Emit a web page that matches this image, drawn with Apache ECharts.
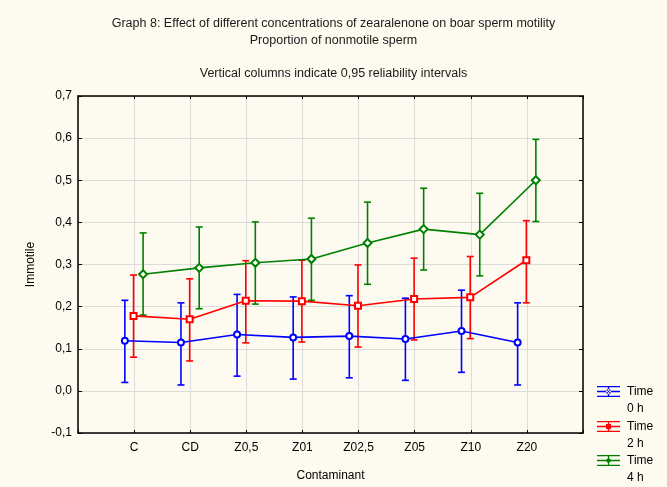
<!DOCTYPE html>
<html>
<head>
<meta charset="utf-8">
<script src="https://cdn.jsdelivr.net/npm/echarts@6/dist/echarts.min.js"></script>
<style>
html,body{margin:0;padding:0;background:#fdfaf0;}
#c{width:667px;height:487px;}
</style>
</head>
<body>
<div id="c"></div>
<script>
var categories = ['C', 'CD', 'Z0,5', 'Z01', 'Z02,5', 'Z05', 'Z10', 'Z20'];
var seriesNames = ['Time\n0 h', 'Time\n2 h', 'Time\n4 h'];
var mean0 = [0.119, 0.115, 0.134, 0.127, 0.130, 0.123, 0.142, 0.115];
var low0  = [0.020, 0.014, 0.035, 0.028, 0.031, 0.025, 0.044, 0.014];
var high0 = [0.215, 0.209, 0.229, 0.223, 0.226, 0.220, 0.239, 0.209];
var mean2 = [0.178, 0.170, 0.214, 0.213, 0.202, 0.218, 0.222, 0.310];
var low2  = [0.080, 0.071, 0.114, 0.116, 0.104, 0.121, 0.124, 0.209];
var high2 = [0.275, 0.266, 0.309, 0.310, 0.299, 0.315, 0.319, 0.404];
var mean4 = [0.277, 0.292, 0.304, 0.313, 0.351, 0.384, 0.371, 0.500];
var low4  = [0.180, 0.195, 0.206, 0.215, 0.253, 0.287, 0.273, 0.402];
var high4 = [0.375, 0.389, 0.401, 0.410, 0.448, 0.481, 0.469, 0.597];
var yTicks = [-0.1, 0.0, 0.1, 0.2, 0.3, 0.4, 0.5, 0.6, 0.7];

var colors = ['#0000ff', '#ff0000', '#008000'];
var symbols = ['emptyCircle', 'emptyRect', 'emptyDiamond'];
var symbolSizes = [6, 6, 8];
var xShift = [-0.165, -0.01, 0.16];
var legendTops = [366, 401, 435];
var means = [mean0, mean2, mean4];
var lows = [low0, low2, low4];
var highs = [high0, high2, high4];

var FONT = 'Liberation Sans, Arial, sans-serif';

function icon(markerPath) {
  return 'path://M0,0H23V1.3H0Z M0,4.85H23V6.15H0Z M0,9.7H23V11H0Z M10.85,0H12.15V11H10.85Z ' + markerPath;
}
var legendIcons = [
  icon('M9,5.5A2.5,2.5 0 1 0 14,5.5A2.5,2.5 0 1 0 9,5.5Z'),
  icon('M9,3H14V8H9Z'),
  icon('M11.5,2.5L14.5,5.5L11.5,8.5L8.5,5.5Z')
];

var series = [];
for (var s = 0; s < 3; s++) {
  (function (s) {
    var errData = categories.map(function (c, i) { return [i + xShift[s], lows[s][i], highs[s][i]]; });
    series.push({
      type: 'custom',
      name: seriesNames[s] + '_err',
      xAxisIndex: 0, yAxisIndex: 0,
      silent: true,
      data: errData,
      encode: { x: 0, y: [1, 2] },
      z: 2,
      renderItem: function (params, api) {
        var x = api.value(0), lo = api.value(1), hi = api.value(2);
        var pLo = api.coord([x, lo]);
        var pHi = api.coord([x, hi]);
        var hw = 3.5;
        var st = { stroke: colors[s], lineWidth: 1.6 };
        return {
          type: 'group',
          children: [
            { type: 'line', shape: { x1: pLo[0], y1: pLo[1], x2: pHi[0], y2: pHi[1] }, style: st },
            { type: 'line', shape: { x1: pLo[0] - hw, y1: pLo[1], x2: pLo[0] + hw, y2: pLo[1] }, style: st },
            { type: 'line', shape: { x1: pHi[0] - hw, y1: pHi[1], x2: pHi[0] + hw, y2: pHi[1] }, style: st }
          ]
        };
      }
    });
    series.push({
      type: 'line',
      name: seriesNames[s],
      xAxisIndex: 0, yAxisIndex: 0,
      data: categories.map(function (c, i) { return [i + xShift[s], means[s][i]]; }),
      symbol: symbols[s],
      symbolSize: symbolSizes[s],
      color: colors[s],
      lineStyle: { color: colors[s], width: 1.6 },
      itemStyle: { color: colors[s], borderWidth: 1.6 },
      z: 3,
      animation: false
    });
  })(s);
}

var yLabel = function (v) { return v.toFixed(1).replace('.', ','); };

var legends = seriesNames.map(function (n, i) {
  return {
    orient: 'vertical',
    left: 597,
    top: legendTops[i],
    itemWidth: 23,
    itemHeight: 11,
    itemGap: 0,
    padding: 0,
    selectedMode: false,
    formatter: function (name) { return '\n' + name; },
    textStyle: { fontFamily: FONT, fontSize: 12, color: '#000', lineHeight: 17, padding: [0, 0, 0, 2] },
    data: [{ name: n, icon: legendIcons[i], itemStyle: { color: colors[i], borderWidth: 0 } }]
  };
});

var option = {
  backgroundColor: '#fdfaf0',
  animation: false,
  textStyle: { fontFamily: FONT },
  title: {
    text: 'Graph 8: Effect of different concentrations of zearalenone on boar sperm motility\nProportion of nonmotile sperm\n\nVertical columns indicate 0,95 reliability intervals',
    left: 'center',
    top: 15.8,
    padding: [0, 0, 0, 9],
    textStyle: { fontFamily: FONT, fontSize: 12.5, fontWeight: 'normal', color: '#1a1a1a', lineHeight: 16.4 }
  },
  legend: legends,
  grid: { left: 78, right: 84, top: 96, bottom: 54, show: false },
  xAxis: [{
    type: 'value', min: -1, max: 8, interval: 1,
    name: 'Contaminant', nameLocation: 'middle', nameGap: 37,
    nameTextStyle: { fontFamily: FONT, fontSize: 12, color: '#000' },
    axisLine: { show: true, onZero: false, lineStyle: { color: '#000', width: 1.5 } },
    axisTick: { show: true, inside: true, length: 3, lineStyle: { color: '#000', width: 1 } },
    axisLabel: { margin: 9, fontFamily: FONT, fontSize: 12, color: '#000',
      formatter: function (v) { return (v >= 0 && v < categories.length) ? categories[v] : ''; } },
    splitLine: { show: true, lineStyle: { color: '#dcdcdc', width: 1 } }
  }, {
    type: 'value', min: -1, max: 8, interval: 1, position: 'top',
    axisLine: { show: true, onZero: false, lineStyle: { color: '#000', width: 1.5 } },
    axisTick: { show: true, inside: true, length: 3, lineStyle: { color: '#000', width: 1 } },
    axisLabel: { show: false },
    splitLine: { show: false }
  }],
  yAxis: [{
    type: 'value', min: yTicks[0], max: yTicks[yTicks.length - 1], interval: 0.1,
    name: 'Immotile', nameLocation: 'middle', nameGap: 41,
    nameTextStyle: { fontFamily: FONT, fontSize: 12, color: '#000' },
    axisLine: { show: true, onZero: false, lineStyle: { color: '#000', width: 1.5 } },
    axisTick: { show: true, inside: true, length: 4, lineStyle: { color: '#000', width: 1 } },
    axisLabel: { margin: 6, fontFamily: FONT, fontSize: 12, color: '#000', formatter: yLabel },
    splitLine: { show: true, lineStyle: { color: '#dcdcdc', width: 1 } }
  }, {
    type: 'value', min: yTicks[0], max: yTicks[yTicks.length - 1], interval: 0.1, position: 'right',
    axisLine: { show: true, onZero: false, lineStyle: { color: '#000', width: 1.5 } },
    axisTick: { show: true, inside: true, length: 4, lineStyle: { color: '#000', width: 1 } },
    axisLabel: { show: false },
    splitLine: { show: false }
  }],
  series: series
};

var chart = echarts.init(document.getElementById('c'));
chart.setOption(option);
</script>
</body>
</html>
